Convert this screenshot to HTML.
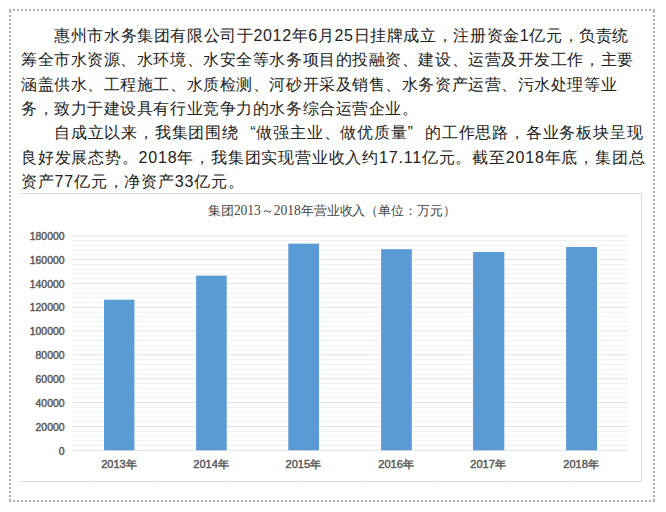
<!DOCTYPE html>
<html><head><meta charset="utf-8">
<style>
html,body{margin:0;padding:0;background:#fff;}
body{width:666px;height:512px;position:relative;overflow:hidden;font-family:"Liberation Sans",sans-serif;}
.txt{position:absolute;left:21px;top:24px;font-size:16px;letter-spacing:0.56px;line-height:24.35px;color:#222;white-space:nowrap;}
.txt div{height:24.35px;}
.ind{padding-left:33px;}
.p2{letter-spacing:0.8px;}
.ql,.qr{display:inline-block;width:17.5px;}.ql{text-align:right;}
svg{position:absolute;left:0;top:0;}
</style></head><body>

<div class="txt">
<div class="ind" style="letter-spacing:0.63px">惠州市水务集团有限公司于2012年6月25日挂牌成立，注册资金1亿元，负责统</div>
<div>筹全市水资源、水环境、水安全等水务项目的投融资、建设、运营及开发工作，主要</div>
<div>涵盖供水、工程施工、水质检测、河砂开采及销售、水务资产运营、污水处理等业</div>
<div>务，致力于建设具有行业竞争力的水务综合运营企业。</div>
<div class="ind p2">自成立以来，我集团围绕<span class="ql">“</span>做强主业、做优质量<span class="qr">”</span>的工作思路，各业务板块呈现</div>
<div class="p2">良好发展态势。2018年，我集团实现营业收入约17.11亿元。截至2018年底，集团总</div>
<div class="p2">资产77亿元，净资产33亿元。</div>
</div>
<svg width="666" height="512" viewBox="0 0 666 512">
<g stroke="#adadad" stroke-width="2" stroke-dasharray="2 2" fill="none"><path d="M9 10H655M9 501H655"/><path d="M10 11V503M654 11V503"/></g>
<path d="M20.5 193.5H641.5V481.5H20.5" fill="none" stroke="#d9d9d9"/>
<path d="M89.5 481.5V484" stroke="#e6e6e6"/><path d="M158.7 481.5V484" stroke="#e6e6e6"/><path d="M227.9 481.5V484" stroke="#e6e6e6"/><path d="M297.1 481.5V484" stroke="#e6e6e6"/><path d="M366.3 481.5V484" stroke="#e6e6e6"/><path d="M435.5 481.5V484" stroke="#e6e6e6"/><path d="M504.7 481.5V484" stroke="#e6e6e6"/><path d="M573.9 481.5V484" stroke="#e6e6e6"/>
<line x1="72" x2="628" y1="450.30" y2="450.30" stroke="#e2e2e2" stroke-width="1"/><line x1="72" x2="628" y1="445.53" y2="445.53" stroke="#f1f1f1" stroke-width="1"/><line x1="72" x2="628" y1="440.76" y2="440.76" stroke="#f1f1f1" stroke-width="1"/><line x1="72" x2="628" y1="436.00" y2="436.00" stroke="#f1f1f1" stroke-width="1"/><line x1="72" x2="628" y1="431.23" y2="431.23" stroke="#f1f1f1" stroke-width="1"/><line x1="72" x2="628" y1="426.46" y2="426.46" stroke="#e2e2e2" stroke-width="1"/><line x1="72" x2="628" y1="421.69" y2="421.69" stroke="#f1f1f1" stroke-width="1"/><line x1="72" x2="628" y1="416.92" y2="416.92" stroke="#f1f1f1" stroke-width="1"/><line x1="72" x2="628" y1="412.16" y2="412.16" stroke="#f1f1f1" stroke-width="1"/><line x1="72" x2="628" y1="407.39" y2="407.39" stroke="#f1f1f1" stroke-width="1"/><line x1="72" x2="628" y1="402.62" y2="402.62" stroke="#e2e2e2" stroke-width="1"/><line x1="72" x2="628" y1="397.85" y2="397.85" stroke="#f1f1f1" stroke-width="1"/><line x1="72" x2="628" y1="393.08" y2="393.08" stroke="#f1f1f1" stroke-width="1"/><line x1="72" x2="628" y1="388.32" y2="388.32" stroke="#f1f1f1" stroke-width="1"/><line x1="72" x2="628" y1="383.55" y2="383.55" stroke="#f1f1f1" stroke-width="1"/><line x1="72" x2="628" y1="378.78" y2="378.78" stroke="#e2e2e2" stroke-width="1"/><line x1="72" x2="628" y1="374.01" y2="374.01" stroke="#f1f1f1" stroke-width="1"/><line x1="72" x2="628" y1="369.24" y2="369.24" stroke="#f1f1f1" stroke-width="1"/><line x1="72" x2="628" y1="364.48" y2="364.48" stroke="#f1f1f1" stroke-width="1"/><line x1="72" x2="628" y1="359.71" y2="359.71" stroke="#f1f1f1" stroke-width="1"/><line x1="72" x2="628" y1="354.94" y2="354.94" stroke="#e2e2e2" stroke-width="1"/><line x1="72" x2="628" y1="350.17" y2="350.17" stroke="#f1f1f1" stroke-width="1"/><line x1="72" x2="628" y1="345.40" y2="345.40" stroke="#f1f1f1" stroke-width="1"/><line x1="72" x2="628" y1="340.64" y2="340.64" stroke="#f1f1f1" stroke-width="1"/><line x1="72" x2="628" y1="335.87" y2="335.87" stroke="#f1f1f1" stroke-width="1"/><line x1="72" x2="628" y1="331.10" y2="331.10" stroke="#e2e2e2" stroke-width="1"/><line x1="72" x2="628" y1="326.33" y2="326.33" stroke="#f1f1f1" stroke-width="1"/><line x1="72" x2="628" y1="321.56" y2="321.56" stroke="#f1f1f1" stroke-width="1"/><line x1="72" x2="628" y1="316.80" y2="316.80" stroke="#f1f1f1" stroke-width="1"/><line x1="72" x2="628" y1="312.03" y2="312.03" stroke="#f1f1f1" stroke-width="1"/><line x1="72" x2="628" y1="307.26" y2="307.26" stroke="#e2e2e2" stroke-width="1"/><line x1="72" x2="628" y1="302.49" y2="302.49" stroke="#f1f1f1" stroke-width="1"/><line x1="72" x2="628" y1="297.72" y2="297.72" stroke="#f1f1f1" stroke-width="1"/><line x1="72" x2="628" y1="292.96" y2="292.96" stroke="#f1f1f1" stroke-width="1"/><line x1="72" x2="628" y1="288.19" y2="288.19" stroke="#f1f1f1" stroke-width="1"/><line x1="72" x2="628" y1="283.42" y2="283.42" stroke="#e2e2e2" stroke-width="1"/><line x1="72" x2="628" y1="278.65" y2="278.65" stroke="#f1f1f1" stroke-width="1"/><line x1="72" x2="628" y1="273.88" y2="273.88" stroke="#f1f1f1" stroke-width="1"/><line x1="72" x2="628" y1="269.12" y2="269.12" stroke="#f1f1f1" stroke-width="1"/><line x1="72" x2="628" y1="264.35" y2="264.35" stroke="#f1f1f1" stroke-width="1"/><line x1="72" x2="628" y1="259.58" y2="259.58" stroke="#e2e2e2" stroke-width="1"/><line x1="72" x2="628" y1="254.81" y2="254.81" stroke="#f1f1f1" stroke-width="1"/><line x1="72" x2="628" y1="250.04" y2="250.04" stroke="#f1f1f1" stroke-width="1"/><line x1="72" x2="628" y1="245.28" y2="245.28" stroke="#f1f1f1" stroke-width="1"/><line x1="72" x2="628" y1="240.51" y2="240.51" stroke="#f1f1f1" stroke-width="1"/><line x1="72" x2="628" y1="235.74" y2="235.74" stroke="#e2e2e2" stroke-width="1"/>
<rect x="104" y="299.7" width="30.4" height="150.60" fill="#5b9bd5"/><rect x="196.1" y="275.6" width="30.6" height="174.70" fill="#5b9bd5"/><rect x="288.3" y="243.6" width="30.7" height="206.70" fill="#5b9bd5"/><rect x="381.1" y="249.2" width="30.7" height="201.10" fill="#5b9bd5"/><rect x="473.1" y="252" width="31.2" height="198.30" fill="#5b9bd5"/><rect x="566.1" y="247" width="30.9" height="203.30" fill="#5b9bd5"/>
<g font-family="Liberation Sans" font-size="10.4" fill="#595959" stroke="#595959" stroke-width="0.45"><text x="64.5" y="454.50" text-anchor="end">0</text><text x="64.5" y="430.66" text-anchor="end">20000</text><text x="64.5" y="406.82" text-anchor="end">40000</text><text x="64.5" y="382.98" text-anchor="end">60000</text><text x="64.5" y="359.14" text-anchor="end">80000</text><text x="64.5" y="335.30" text-anchor="end">100000</text><text x="64.5" y="311.46" text-anchor="end">120000</text><text x="64.5" y="287.62" text-anchor="end">140000</text><text x="64.5" y="263.78" text-anchor="end">160000</text><text x="64.5" y="239.94" text-anchor="end">180000</text></g><g font-family="Liberation Sans" font-size="11" fill="#595959" stroke="#595959" stroke-width="0.45"><text x="119.0" y="467.9" text-anchor="middle">2013年</text><text x="211.1" y="467.9" text-anchor="middle">2014年</text><text x="303.3" y="467.9" text-anchor="middle">2015年</text><text x="396.1" y="467.9" text-anchor="middle">2016年</text><text x="488.1" y="467.9" text-anchor="middle">2017年</text><text x="581.1" y="467.9" text-anchor="middle">2018年</text></g>
<text x="208" y="214.8" textLength="248" lengthAdjust="spacing" font-family="Liberation Serif" font-size="12.7" fill="#454545">集团<tspan font-size="13.6">2013</tspan>～<tspan font-size="13.6">2018</tspan>年营业收入（单位：万元）</text>
</svg>
</body></html>
